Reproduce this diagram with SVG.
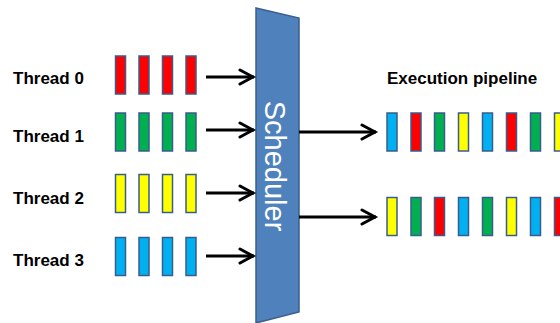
<svg xmlns="http://www.w3.org/2000/svg" width="560" height="323" viewBox="0 0 560 323">
<style>
.lbl{font-family:"Liberation Sans",Arial,sans-serif;font-weight:bold;font-size:17px;fill:#000}
.bar{stroke:#385D8A;stroke-width:1.5}
.r{fill:#FF0000}.g{fill:#00B050}.y{fill:#FFFF00}.b{fill:#00B0F0}
.conn{stroke:#000;stroke-width:3;fill:none;marker-end:url(#arr)}
</style>
<defs>
<marker id="arr" markerUnits="userSpaceOnUse" markerWidth="20" markerHeight="20" refX="0" refY="0" viewBox="-16 -10 20 20" orient="auto">
<path d="M-14,-7 L-1,0 L-14,7" fill="none" stroke="#000" stroke-width="3" stroke-linecap="round" stroke-linejoin="miter"/>
</marker>
</defs>
<rect width="560" height="323" fill="#fff"/>
<g id="thread0">
<text class="lbl" x="13" y="84">Thread 0</text>
<rect class="bar r" x="115.5" y="56" width="10" height="38"/>
<rect class="bar r" x="139" y="56" width="10" height="38"/>
<rect class="bar r" x="162.5" y="56" width="10" height="38"/>
<rect class="bar r" x="186" y="56" width="10" height="38"/>
</g>
<g id="thread1">
<text class="lbl" x="13" y="142">Thread 1</text>
<rect class="bar g" x="115.5" y="113" width="10" height="38"/>
<rect class="bar g" x="139" y="113" width="10" height="38"/>
<rect class="bar g" x="162.5" y="113" width="10" height="38"/>
<rect class="bar g" x="186" y="113" width="10" height="38"/>
</g>
<g id="thread2">
<text class="lbl" x="13" y="204">Thread 2</text>
<rect class="bar y" x="115.5" y="174.5" width="10" height="38"/>
<rect class="bar y" x="139" y="174.5" width="10" height="38"/>
<rect class="bar y" x="162.5" y="174.5" width="10" height="38"/>
<rect class="bar y" x="186" y="174.5" width="10" height="38"/>
</g>
<g id="thread3">
<text class="lbl" x="13" y="266">Thread 3</text>
<rect class="bar b" x="115.5" y="237.5" width="10" height="38"/>
<rect class="bar b" x="139" y="237.5" width="10" height="38"/>
<rect class="bar b" x="162.5" y="237.5" width="10" height="38"/>
<rect class="bar b" x="186" y="237.5" width="10" height="38"/>
</g>
<g id="scheduler">
<polygon points="256,8 299,18 299,312 256,323" fill="#4F81BD" stroke="#3A5F8B" stroke-width="1.5"/>
<text transform="translate(265,166) rotate(90)" text-anchor="middle" font-family="'Liberation Sans',Arial,sans-serif" font-size="29" fill="#fff">Scheduler</text>
</g>
<g id="pipeline">
<text class="lbl" x="387" y="84">Execution pipeline</text>
<rect class="bar b" x="387" y="113" width="10" height="38"/>
<rect class="bar r" x="411" y="113" width="10" height="38"/>
<rect class="bar g" x="434.5" y="113" width="10" height="38"/>
<rect class="bar y" x="458.5" y="113" width="10" height="38"/>
<rect class="bar b" x="482.5" y="113" width="10" height="38"/>
<rect class="bar r" x="506.5" y="113" width="10" height="38"/>
<rect class="bar g" x="530.5" y="113" width="10" height="38"/>
<rect class="bar y" x="554.5" y="113" width="10" height="38"/>
<rect class="bar y" x="387" y="197.5" width="10" height="38"/>
<rect class="bar g" x="411" y="197.5" width="10" height="38"/>
<rect class="bar r" x="434.5" y="197.5" width="10" height="38"/>
<rect class="bar b" x="458.5" y="197.5" width="10" height="38"/>
<rect class="bar g" x="482.5" y="197.5" width="10" height="38"/>
<rect class="bar y" x="506.5" y="197.5" width="10" height="38"/>
<rect class="bar b" x="530.5" y="197.5" width="10" height="38"/>
<rect class="bar r" x="554.5" y="197.5" width="10" height="38"/>
</g>
<g id="connectors">
<path class="conn" d="M206,77 H254"/>
<path class="conn" d="M206,130 H254"/>
<path class="conn" d="M206,193 H254"/>
<path class="conn" d="M206,256 H254"/>
<path class="conn" d="M299,132 H376"/>
<path class="conn" d="M299,217 H376"/>
</g>
</svg>
